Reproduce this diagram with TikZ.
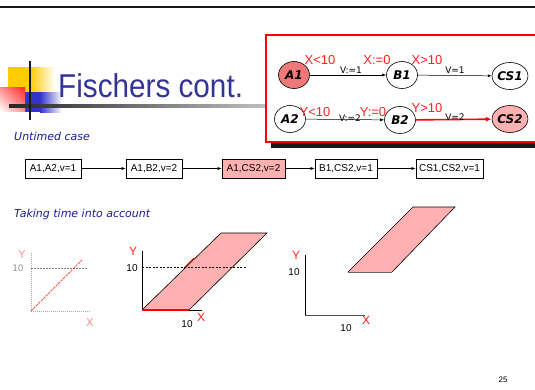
\documentclass[tikz,border=0pt]{standalone}
\usepackage{fontspec}
\setmainfont{DejaVu Sans}
\newfontfamily\tahoma{Liberation Sans}
\usetikzlibrary{arrows.meta,shapes.geometric,shadings}

\definecolor{titleblue}{HTML}{333399}
\definecolor{textblue}{HTML}{1A1A99}
\definecolor{salmon}{HTML}{F07878}
\definecolor{pinkfill}{HTML}{FFB0B0}
\definecolor{guardred}{HTML}{FF2020}
\definecolor{logoyellow}{HTML}{FFCC00}
\definecolor{logoblue}{HTML}{3333CC}

\tikzset{
  state/.style={ellipse, draw, line width=0.6pt, minimum width=31pt, minimum height=27pt,
    inner sep=0pt, font=\fontsize{12}{12}\selectfont\bfseries\itshape},
  guard/.style={text=guardred, font=\tahoma\fontsize{13}{13}\selectfont, inner sep=0pt},
  upd/.style={font=\fontsize{9}{9}\selectfont, inner sep=0pt},
  cfg/.style={draw, line width=0.6pt, minimum height=19pt, inner sep=1pt,
    font=\tahoma\fontsize{10}{10}\selectfont},
  flow/.style={-{Latex[length=4pt,width=3pt]}, line width=0.5pt},
  axis/.style={line width=0.8pt},
  reflevel/.style={dash pattern=on 2pt off 1.5pt, line width=0.5pt},
  axlabel/.style={text=guardred, font=\tahoma\fontsize{12}{12}\selectfont, inner sep=0pt},
  tick/.style={font=\tahoma\fontsize{10}{10}\selectfont, inner sep=0pt},
  sub/.style={text=textblue, font=\fontsize{11}{11}\selectfont\itshape, inner sep=0pt, anchor=west}
}

\begin{document}
\begin{tikzpicture}[x=1pt,y=-1pt]
\useasboundingbox (0,0) rectangle (535,389);

% top rule
\fill[black!90] (0,5.5) rectangle (535,8);

% logo
\fill[logoyellow] (8,67) rectangle (30,92);
\shade[left color=logoyellow, right color=white] (30,67) rectangle (55,92);
\fill[logoblue] (16,92) rectangle (40,112);
\shade[left color=logoblue, right color=white] (40,92) rectangle (62,112);
\shade[upper right=red!85, upper left=red!45, lower right=red!45, lower left=white] (0,87) rectangle (25,111);
\shade[left color=black!85, right color=black!25] (9,104.8) rectangle (266,107.3);
\fill[black!90] (29,61) rectangle (31,120);

% title
\node[anchor=base west, inner sep=0pt, text=titleblue] (title) at (58,97)
  {\scalebox{0.9}[1]{\tahoma\fontsize{33}{33}\selectfont Fischers cont.}};

% automata panel
\fill[black!90] (271,143) rectangle (540,147.5);
\draw[red, line width=2.5pt, fill=white] (266,35) rectangle (545,142);

\node[state, fill=salmon] (A1) at (294,75) {A1};
\node[state] (B1) at (402,75) {B1};
\node[state] (CS1) at (510,76) {CS1};
\node[state] (A2) at (290,119) {A2};
\node[state] (B2) at (400,120) {B2};
\node[state, fill=pinkfill] (CS2) at (510,119) {CS2};

\draw[flow] (A1) -- (B1);
\draw[flow] (B1) -- (CS1);
\draw[flow] (A2) -- (B2);
\draw[-{Latex[length=6pt,width=5pt]}, red, line width=1.6pt] (B2) -- (CS2);

\node[guard] (g1) at (320,60) {X<10};
\node[guard] (g2) at (377,60) {X:=0};
\node[guard] (g3) at (427,60) {X>10};
\node[upd] (u1) at (351,70) {V:=1};
\node[upd] (u2) at (455,70) {V=1};
\node[guard] (g4) at (315,112) {Y<10};
\node[guard] (g5) at (373,112) {Y:=0};
\node[guard] (g6) at (427,108) {Y>10};
\node[upd] (u3) at (350,118) {V:=2};
\node[upd] (u4) at (455,117) {V=2};

% untimed case
\node[sub] (untimed) at (14,136) {Untimed case};

\node[cfg, minimum width=56pt] (c1) at (53,168.5) {A1,A2,v=1};
\node[cfg, minimum width=56pt] (c2) at (154,168.5) {A1,B2,v=2};
\node[cfg, minimum width=63pt, fill=pinkfill] (c3) at (253.5,168.5) {A1,CS2,v=2};
\node[cfg, minimum width=62pt] (c4) at (346,168.5) {B1,CS2,v=1};
\node[cfg, minimum width=67pt] (c5) at (449.5,168.5) {CS1,CS2,v=1};
\draw[flow] (c1) -- (c2);
\draw[flow] (c2) -- (c3);
\draw[flow] (c3) -- (c4);
\draw[flow] (c4) -- (c5);

% timed case
\node[sub] (timed) at (14,214) {Taking time into account};

% zone graph 1 (faded)
\begin{scope}[opacity=0.7]
  \coordinate (o1) at (31,311);
  \draw[black!50, dash pattern=on 1pt off 1pt, line width=0.7pt] (31,253) -- (o1) -- (90,311);
  \draw[black!70, dash pattern=on 1.5pt off 1.5pt, line width=0.5pt] (31,268) -- (88,268);
  \draw[red, dash pattern=on 2.5pt off 1pt, line width=1pt] (o1) -- (82,260);
  \node[text=red!60, font=\fontsize{11}{11}\selectfont, inner sep=0pt] (y1) at (22,254) {Y};
  \node[text=black!60, font=\fontsize{9}{9}\selectfont, inner sep=0pt] (t1) at (18,268) {10};
  \node[text=red!60, font=\fontsize{11}{11}\selectfont, inner sep=0pt] (x1) at (90,322) {X};
\end{scope}

% zone graph 2
\fill[pinkfill] (142,310) -- (189,310) -- (267,233) -- (221,233) -- cycle;
\draw[line width=0.6pt] (142,310) -- (221,233) -- (267,233) -- (189,310);
\draw[axis] (142,251) -- (142,310) -- (202,310);
\draw[reflevel] (142,267) -- (246,267);
\draw[red, line width=2.5pt] (142,310) -- (189,310);
\draw[red, line width=1pt] (185,267) -- (194,258);
\node[axlabel] (y2) at (133,251) {Y};
\node[tick] (t2) at (132,268) {10};
\node[axlabel] (x2) at (201,317) {X};
\node[tick] (t3) at (187,324) {10};

% zone graph 3
\fill[pinkfill] (348,272) -- (392,272) -- (455,207) -- (413,207) -- cycle;
\draw[line width=0.6pt] (348,272) -- (413,207) -- (455,207) -- (392,272);
\draw[black!60, line width=0.6pt] (348,272) -- (392,272);
\draw[axis] (305,255) -- (305,315);
\draw[axis, black!70] (305,315) -- (365,315);
\node[axlabel] (y3) at (296,255) {Y};
\node[tick] (t4) at (294,272) {10};
\node[axlabel] (x3) at (366,320) {X};
\node[tick] (t5) at (346,328) {10};

% page number
\node[font=\tahoma\fontsize{8}{8}\selectfont, inner sep=0pt] (page) at (503,380) {25};
\end{tikzpicture}
\end{document}
